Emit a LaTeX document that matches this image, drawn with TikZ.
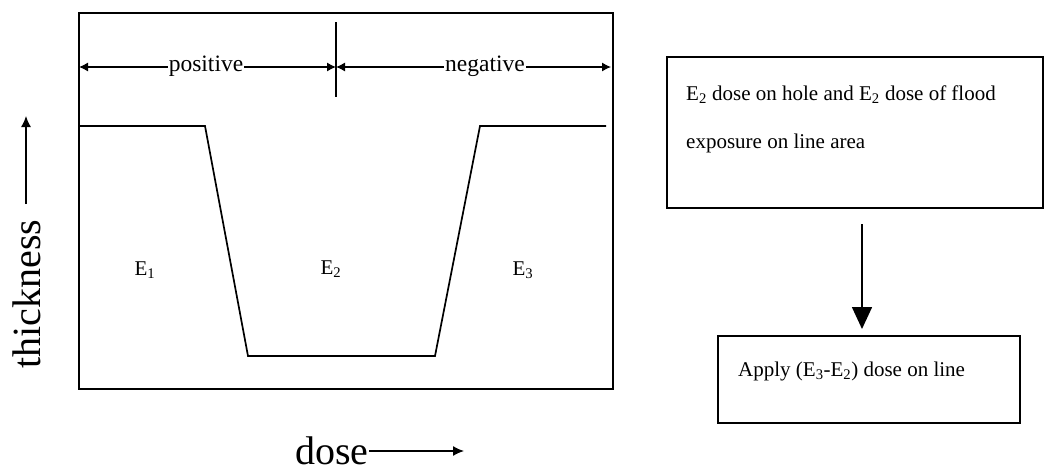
\documentclass[tikz,border=0pt]{standalone}
\usepackage{fontspec}
\setmainfont{Liberation Serif}
\usetikzlibrary{arrows.meta}
\begin{document}
\begin{tikzpicture}[x=1pt,y=-1pt,
  frame/.style={draw=black,line width=1.7pt,inner sep=0pt,anchor=north west},
  lbl/.style={font=\fontsize{23.5}{27}\selectfont,inner sep=1pt},
  elbl/.style={font=\fontsize{21}{25}\selectfont,inner sep=0pt},
  boxtext/.style={font=\fontsize{21}{24}\selectfont,inner sep=0pt,anchor=base west},
  axis/.style={font=\fontsize{40}{46}\selectfont,inner sep=0pt},
  dim/.style={line width=1.1pt,{Latex[length=9pt,width=9pt]}-{Latex[length=9pt,width=9pt]}},
  axarrow/.style={line width=1.3pt,-{Latex[length=11pt,width=10pt]}},
  bigarrow/.style={line width=1.6pt,-{Triangle[length=22pt,width=20pt]}},
  profile/.style={line width=1.7pt}]
\useasboundingbox (0,0) rectangle (1045,471);
% main plot frame
\node[frame,minimum width=534pt,minimum height=376pt] (plot) at (78,12) {};
% dimension line
\coordinate (dL) at (79,67);
\coordinate (dM) at (336,67);
\coordinate (dR) at (611,67);
\coordinate (tT) at (336,22);
\coordinate (tB) at (336,97);
\draw[line width=1.1pt] (tT) -- (tB);
\draw[dim] (dL) -- (dM);
\draw[dim] (dM) -- (dR);
\node[lbl,fill=white] (pos) at (206,66) {positive};
\node[lbl,fill=white] (neg) at (485,66) {negative};
% profile
\coordinate (p0) at (79,126);
\coordinate (p1) at (205,126);
\coordinate (p2) at (248,356);
\coordinate (p3) at (435,356);
\coordinate (p4) at (480,126);
\coordinate (p5) at (606,126);
\draw[profile] (p0) -- (p1) -- (p2) -- (p3) -- (p4) -- (p5);
\node[elbl] (e1) at (145,270) {E\textsubscript{1}};
\node[elbl] (e2) at (331,269) {E\textsubscript{2}};
\node[elbl] (e3) at (523,270) {E\textsubscript{3}};
% axes labels
\node[axis,rotate=90] (thick) at (27,294) {thickness};
\coordinate (thickTip) at (26,116);
\coordinate (thickStart) at (26,204);
\draw[axarrow] (thickStart) -- (thickTip);
\node[axis,anchor=base,text depth=0pt] (dose) at (332,464) {dose};
\coordinate (doseStart) at (369,451);
\coordinate (doseTip) at (464,451);
\draw[axarrow] (doseStart) -- (doseTip);
% right boxes
\node[frame,minimum width=376pt,minimum height=151pt] (b1) at (666,56) {};
\node[boxtext] (b1t1) at (686,100) {E\textsubscript{2} dose on hole and E\textsubscript{2} dose of flood};
\node[boxtext] (b1t2) at (686,148) {exposure on line area};
\node[frame,minimum width=302pt,minimum height=87pt] (b2) at (717,335) {};
\node[boxtext] (b2t) at (738,376) {Apply (E\textsubscript{3}-E\textsubscript{2}) dose on line};
\coordinate (aStart) at (862,224);
\coordinate (aEnd) at (862,329);
\draw[bigarrow] (aStart) -- (aEnd);
\end{tikzpicture}
\end{document}
